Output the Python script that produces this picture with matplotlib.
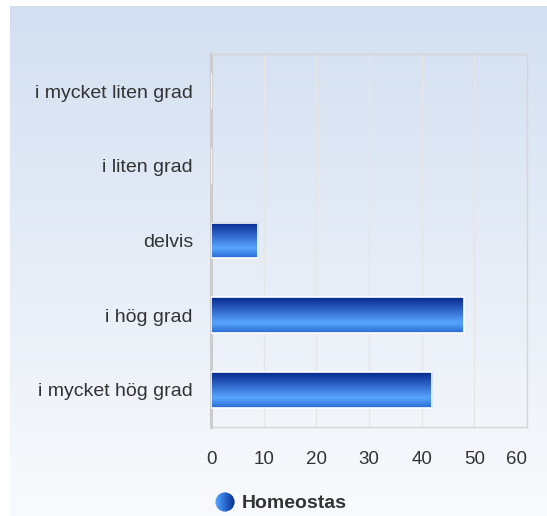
import numpy as np
import matplotlib
matplotlib.use("Agg")
import matplotlib.pyplot as plt
from matplotlib.colors import LinearSegmentedColormap
from matplotlib.patches import Rectangle, Circle

plt.rcParams['font.family'] = ['Liberation Sans', 'DejaVu Sans']

categories = ['i mycket hög grad', 'i hög grad', 'delvis', 'i liten grad', 'i mycket liten grad']
values = [42, 48, 9, 0, 0]
series_name = 'Homeostas'
xticks = [0, 10, 20, 30, 40, 50, 60]

W, H = 547, 516
fig = plt.figure(figsize=(W / 100, H / 100), dpi=100)

# background gradient panel
bg = fig.add_axes([0, 0, 1, 1], zorder=-10)
bg.set_axis_off()
bg.set_xlim(0, W)
bg.set_ylim(H, 0)
bgcmap = LinearSegmentedColormap.from_list('bg', ['#d3dff1', '#e6edf7', '#f9fafd'])
grad = np.linspace(0, 1, 256).reshape(-1, 1)
bg.imshow(grad, cmap=bgcmap, aspect='auto', extent=[10, W, H, 6], interpolation='bicubic')

ax = fig.add_axes([211 / W, 1 - 427 / H, (527 - 211) / W, (427 - 54) / H])
ax.patch.set_alpha(0)

barcmap = LinearSegmentedColormap.from_list(
    'bar', [(0, '#062a8c'), (0.35, '#2f63c8'), (0.72, '#58a6ff'), (1, '#2a6bd2')])
bar_h = 0.48
y = np.arange(len(categories))
gv = np.linspace(0, 1, 64).reshape(-1, 1)
for yi, v in zip(y, values):
    if v > 0:
        ax.imshow(gv, cmap=barcmap, aspect='auto', interpolation='bicubic',
                  extent=[0, v, yi - bar_h / 2, yi + bar_h / 2], zorder=3)
    ax.add_patch(Rectangle((0, yi - bar_h / 2), v, bar_h, fill=False,
                           edgecolor='white', lw=1.2, zorder=4))

ax.set_xlim(0, 60)
ax.set_ylim(-0.5, len(categories) - 0.5)
ax.set_xticks(xticks)
ax.set_xticklabels([str(t) for t in xticks])
ax.set_yticks(y)
ax.set_yticklabels(categories)
ax.tick_params(axis='x', length=0, pad=17, labelsize=13.5, labelcolor='#333333')
ax.tick_params(axis='y', length=0, pad=13, labelsize=14, labelcolor='#333333')
ax.get_xticklabels()[-1].set_horizontalalignment('right')
ax.grid(axis='x', color='#e6e6e6', lw=1.0, zorder=0)
ax.set_axisbelow(True)
for side in ['top', 'bottom', 'right']:
    ax.spines[side].set_color('#d6d6d6')
    ax.spines[side].set_linewidth(1.0)
ax.spines['left'].set_color('#cccccc')
ax.spines['left'].set_linewidth(2.2)

# legend
lg = fig.add_axes([215 / W, 1 - 512 / H, 20 / W, 20 / H])
lg.set_axis_off()
lg.set_xlim(0, 1)
lg.set_ylim(0, 1)
lgcmap = LinearSegmentedColormap.from_list('lg', ['#5aa8ff', '#2a6ad0', '#0a2d8c'])
im = lg.imshow(np.linspace(0, 1, 64).reshape(1, -1), cmap=lgcmap, aspect='auto',
               extent=[0, 1, 0, 1], interpolation='bicubic')
circ = Circle((0.5, 0.5), 0.48, transform=lg.transData)
im.set_clip_path(circ)
fig.text(242 / W, 1 - 503 / H, series_name, fontsize=14, fontweight='bold',
         color='#333333', va='center', ha='left')

fig.savefig('out.png', dpi=100)
